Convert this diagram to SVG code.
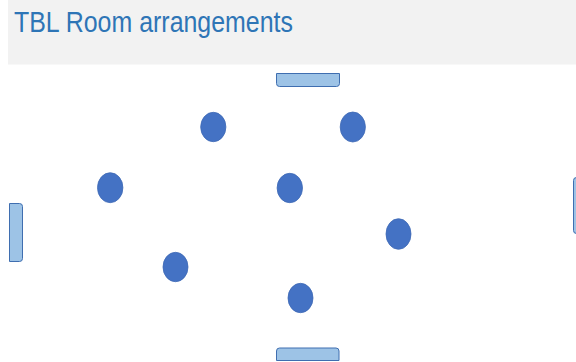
<svg xmlns="http://www.w3.org/2000/svg" width="576" height="362" viewBox="0 0 576 362">
<style>
.seat{fill:#4472C4;stroke:#3F69B5;stroke-width:0.8}
.board{fill:#9DC3E6;stroke:#3F6EB0;stroke-width:1}
.title{font-family:"Liberation Sans",Arial,sans-serif;font-size:29px;fill:#2E75B6}
</style>
<rect x="0" y="0" width="576" height="362" fill="#FFFFFF"/>
<g id="header">
<rect x="8" y="0" width="568" height="64.5" fill="#F2F2F2"/>
<text class="title" x="14" y="32" textLength="279" lengthAdjust="spacingAndGlyphs">TBL Room arrangements</text>
</g>
<g id="board-top"><path class="board" d="M276.5,73.5 H339.5 V83.5 Q339.5,86.5 336.5,86.5 H279.5 Q276.5,86.5 276.5,83.5 Z"/></g>
<g id="board-bottom"><path class="board" d="M276.5,360.5 V351 Q276.5,348 279.5,348 H336 Q339,348 339,351 V360.5 Z"/></g>
<g id="board-left"><path class="board" d="M9.5,203.5 H19.5 Q22.5,203.5 22.5,206.5 V258.5 Q22.5,261.5 19.5,261.5 H9.5 Z"/></g>
<g id="board-right"><path class="board" d="M586,177.5 H576.5 Q573.5,177.5 573.5,180.5 V230.5 Q573.5,233.5 576.5,233.5 H586 Z"/></g>
<g id="seat1"><ellipse class="seat" cx="213.3" cy="127" rx="12.6" ry="14.7"/></g>
<g id="seat2"><ellipse class="seat" cx="352.8" cy="127" rx="12.6" ry="15"/></g>
<g id="seat3"><ellipse class="seat" cx="110.2" cy="187.7" rx="12.7" ry="15"/></g>
<g id="seat4"><ellipse class="seat" cx="289.8" cy="188" rx="12.7" ry="14.7"/></g>
<g id="seat5"><ellipse class="seat" cx="398.5" cy="234" rx="12.5" ry="15.3"/></g>
<g id="seat6"><ellipse class="seat" cx="175.5" cy="267" rx="12.5" ry="14.7"/></g>
<g id="seat7"><ellipse class="seat" cx="300.5" cy="298" rx="12.5" ry="14.7"/></g>
<g id="connectors"></g>
</svg>
